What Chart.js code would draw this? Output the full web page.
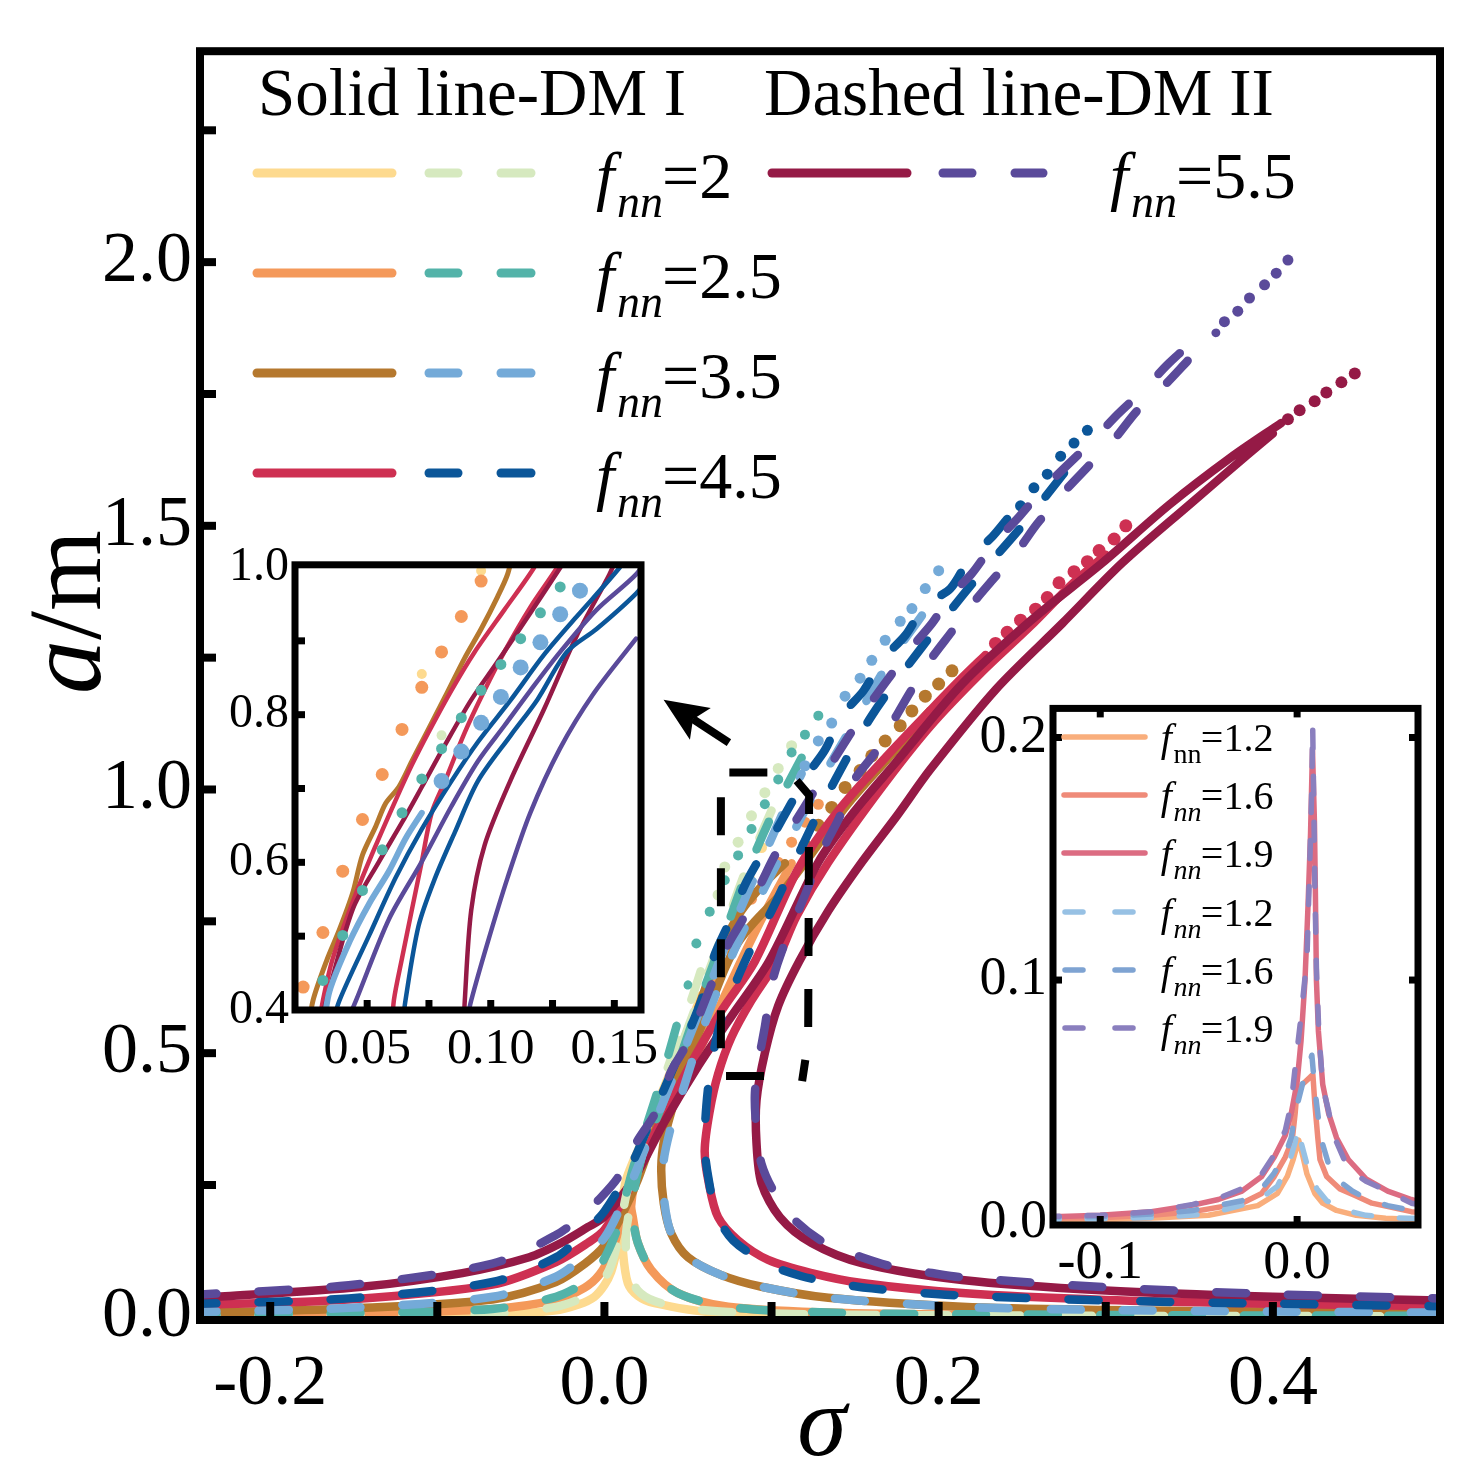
<!DOCTYPE html>
<html>
<head>
<meta charset="utf-8">
<script src="https://cdn.jsdelivr.net/npm/chart.js@4.4.1/dist/chart.umd.min.js"></script>
<style>
  html, body { margin: 0; padding: 0; background: #fff; }
  #wrap { position: relative; width: 1474px; height: 1484px; overflow: hidden; }
  #wrap canvas { position: absolute; }
</style>
</head>
<body>
<div id="wrap">
  <canvas id="mainChart" width="1474" height="1484" style="left:0;top:0"></canvas>
  <canvas id="insetLeft" width="470" height="570" style="left:200px;top:530px"></canvas>
  <canvas id="insetRight" width="490" height="630" style="left:950px;top:670px"></canvas>
</div>
<script>
// ==================================================
// Main plot data: [sigma, a/m] pairs, null = break in the line
// ==================================================
// solid lines, DM I
const dm1_f2 = [[-0.25,0.001],[-0.15,0.002],[-0.067,0.004],[-0.03,0.012],[-0.015,0.024],[-0.006,0.038],[0.0,0.06],[0.004,0.085],[0.007,0.12],[0.009,0.15],[0.010,0.2],[0.013,0.26],[0.022,0.33],[0.035,0.43],[0.048,0.53],[0.058,0.61],null,[0.085,0.8],[0.07,0.69],[0.056,0.58],[0.043,0.47],[0.03,0.37],[0.02,0.29],[0.014,0.22],[0.011,0.17],[0.011,0.126],[0.014,0.064],[0.02,0.04],[0.030,0.026],[0.064,0.009],[0.174,0.002],[0.5,0.001]];
const dm1_f2_dots = [[0.066,0.68],[0.074,0.73],[0.080,0.768],[0.087,0.83],[0.094,0.89]];

const dm1_f25 = [[-0.25,0.003],[-0.153,0.006],[-0.067,0.015],[-0.029,0.032],[-0.012,0.055],[-0.003,0.08],[0.004,0.12],[0.009,0.17],[0.013,0.22],[0.019,0.28],[0.03,0.37],[0.043,0.47],[0.056,0.57],[0.068,0.66],null,[0.112,0.86],[0.095,0.76],[0.078,0.65],[0.062,0.54],[0.047,0.44],[0.034,0.36],[0.024,0.3],[0.018,0.25],[0.016,0.21],[0.017,0.189],[0.020,0.14],[0.028,0.089],[0.044,0.045],[0.074,0.019],[0.134,0.008],[0.214,0.004],[0.35,0.003],[0.5,0.002]];
const dm1_f25_dots = [[0.074,0.70],[0.080,0.749],[0.088,0.792],[0.096,0.83],[0.104,0.862],[0.112,0.90],[0.12,0.938],[0.128,0.972]];

const dm1_f35 = [[-0.25,0.007],[-0.153,0.016],[-0.067,0.033],[-0.029,0.066],[-0.012,0.1],[0.0,0.135],[0.01,0.19],[0.02,0.26],[0.03,0.35],[0.04,0.44],[0.05,0.53],[0.06,0.62],[0.07,0.70],[0.082,0.77],[0.095,0.82],[0.108,0.86],null,[0.195,1.15],[0.17,1.06],[0.145,0.97],[0.122,0.87],[0.105,0.80],[0.09,0.75],[0.08,0.71],[0.072,0.66],[0.062,0.58],[0.052,0.504],[0.042,0.41],[0.036,0.34],[0.034,0.283],[0.0355,0.215],[0.040,0.158],[0.050,0.113],[0.070,0.079],[0.094,0.057],[0.134,0.036],[0.214,0.019],[0.3,0.013],[0.4,0.010],[0.5,0.008]];
const dm1_f35_dots = [[0.12,0.894],[0.128,0.932],[0.136,0.966],[0.144,1.004],[0.153,1.036],[0.160,1.064],[0.168,1.092],[0.177,1.121],[0.184,1.149],[0.192,1.177],[0.2,1.2],[0.208,1.225]];

const dm1_f45 = [[-0.25,0.022],[-0.153,0.033],[-0.067,0.061],[-0.029,0.104],[-0.01,0.14],[0.0,0.165],[0.016,0.25],[0.032,0.36],[0.050,0.47],[0.070,0.58],[0.09,0.674],[0.116,0.85],[0.14,0.96],[0.168,1.06],[0.195,1.15],[0.215,1.215],[0.228,1.255],null,[0.30,1.445],[0.28,1.39],[0.255,1.31],[0.225,1.22],[0.195,1.12],[0.165,1.0],[0.134,0.862],[0.115,0.76],[0.103,0.674],[0.088,0.6],[0.076,0.53],[0.068,0.46],[0.063,0.39],[0.060,0.315],[0.0625,0.253],[0.068,0.189],[0.080,0.145],[0.098,0.108],[0.124,0.083],[0.154,0.064],[0.214,0.045],[0.3,0.032],[0.4,0.025],[0.5,0.02]];
const dm1_f45_dots = [[0.234,1.277],[0.241,1.298],[0.249,1.321],[0.258,1.342],[0.265,1.364],[0.272,1.392],[0.281,1.413],[0.289,1.432],[0.296,1.453],[0.305,1.475],[0.312,1.50]];

const dm1_f55 = [[-0.25,0.036],[-0.227,0.039],[-0.145,0.057],[-0.085,0.083],[-0.045,0.113],[-0.026,0.14],[-0.01,0.17],[0.0,0.19],[0.018,0.264],[0.036,0.37],[0.055,0.47],[0.076,0.57],[0.0985,0.674],[0.128,0.862],[0.15,0.96],[0.174,1.05],[0.214,1.2],[0.255,1.32],[0.298,1.43],[0.338,1.54],[0.375,1.63],[0.405,1.695],null,[0.40,1.675],[0.385,1.635],[0.35,1.54],[0.31,1.43],[0.274,1.315],[0.234,1.189],[0.195,1.038],[0.175,0.95],[0.154,0.862],[0.134,0.77],[0.1165,0.674],[0.104,0.59],[0.096,0.5],[0.091,0.41],[0.091,0.33],[0.094,0.253],[0.105,0.189],[0.124,0.140],[0.154,0.102],[0.214,0.070],[0.3,0.05],[0.4,0.038],[0.5,0.031]];
const dm1_f55_dots = [[0.409,1.702],[0.416,1.719],[0.425,1.736],[0.432,1.753],[0.441,1.772],[0.449,1.789]];

// dashed lines, DM II
const dm2_f2 = [[-0.25,0.002],[-0.153,0.003],[-0.067,0.006],[-0.029,0.019],[-0.012,0.038],[-0.003,0.06],[0.003,0.09],[0.007,0.13],[0.010,0.18],[0.013,0.23],[0.019,0.3],[0.03,0.4],[0.042,0.51],[0.054,0.62],[0.062,0.7],null,[0.1,0.96],[0.085,0.85],[0.07,0.72],[0.056,0.6],[0.042,0.48],[0.03,0.38],[0.021,0.29],[0.016,0.22],[0.013,0.16],[0.013,0.12],[0.015,0.085],[0.02,0.05],[0.03,0.03],[0.05,0.016],[0.09,0.007],[0.2,0.003],[0.5,0.001]];
const dm2_f2_dots = [[0.068,0.8],[0.072,0.853],[0.08,0.9],[0.088,0.95],[0.096,0.994],[0.104,1.04],[0.112,1.083]];

const dm2_f25 = [[-0.25,0.003],[-0.153,0.007],[-0.067,0.015],[-0.029,0.038],[-0.012,0.065],[-0.003,0.095],[0.003,0.13],[0.008,0.17],[0.012,0.22],[0.017,0.28],[0.025,0.36],[0.034,0.45],[0.043,0.55],[0.05,0.63],null,[0.118,1.06],[0.1,0.95],[0.085,0.84],[0.07,0.71],[0.056,0.59],[0.044,0.48],[0.033,0.39],[0.024,0.32],[0.019,0.26],[0.017,0.21],[0.017,0.189],[0.020,0.14],[0.028,0.089],[0.044,0.045],[0.074,0.019],[0.134,0.008],[0.214,0.005],[0.35,0.003],[0.5,0.002]];
const dm2_f25_dots = [[0.055,0.708],[0.063,0.768],[0.072,0.828],[0.080,0.875],[0.088,0.925],[0.096,0.972],[0.104,1.019],[0.112,1.07],[0.120,1.104],[0.128,1.14]];

const dm2_f35 = [[-0.25,0.009],[-0.153,0.017],[-0.067,0.038],[-0.029,0.076],[-0.012,0.115],[0.0,0.15],[0.01,0.21],[0.02,0.285],[0.033,0.39],[0.047,0.5],[0.062,0.62],[0.077,0.74],[0.092,0.85],[0.106,0.95],[0.118,1.03],null,[0.19,1.33],[0.17,1.24],[0.15,1.13],[0.13,1.02],[0.11,0.9],[0.092,0.79],[0.077,0.69],[0.064,0.59],[0.054,0.5],[0.046,0.42],[0.039,0.35],[0.035,0.283],[0.036,0.215],[0.040,0.158],[0.050,0.113],[0.070,0.079],[0.094,0.057],[0.134,0.036],[0.214,0.019],[0.3,0.013],[0.4,0.010],[0.5,0.008]];
const dm2_f35_dots = [[0.12,1.045],[0.128,1.092],[0.136,1.126],[0.144,1.177],[0.153,1.211],[0.160,1.245],[0.168,1.283],[0.177,1.319],[0.184,1.343],[0.192,1.381],[0.2,1.415]];

const dm2_f45 = [[-0.25,0.024],[-0.153,0.035],[-0.067,0.066],[-0.029,0.113],[-0.012,0.16],[0.0,0.2],[0.015,0.28],[0.03,0.39],[0.045,0.5],[0.058,0.6],[0.066,0.687],[0.075,0.75],[0.085,0.825],[0.101,0.913],[0.112,0.975],[0.121,1.026],[0.132,1.075],[0.142,1.14],[0.155,1.187],[0.166,1.245],[0.18,1.292],[0.192,1.349],[0.207,1.381],[0.219,1.44],[0.232,1.479],[0.241,1.513],null,[0.275,1.6],[0.25,1.5],[0.22,1.39],[0.19,1.27],[0.16,1.14],[0.135,1.0],[0.115,0.87],[0.1,0.77],[0.088,0.7],[0.078,0.63],[0.070,0.566],[0.064,0.48],[0.061,0.40],[0.060,0.32],[0.0625,0.258],[0.067,0.196],[0.077,0.145],[0.098,0.10],[0.118,0.077],[0.14,0.063],[0.16,0.054],[0.204,0.042],[0.3,0.031],[0.4,0.025],[0.5,0.02]];
const dm2_f45_dots = [[0.249,1.538],[0.257,1.572],[0.265,1.598],[0.273,1.632],[0.281,1.657],[0.289,1.681]];

const dm2_f55 = [[-0.25,0.041],[-0.153,0.060],[-0.067,0.101],[-0.029,0.155],[-0.012,0.195],[-0.004,0.22],[0.008,0.264],[0.019,0.33],[0.031,0.39],[0.040,0.466],[0.048,0.51],[0.056,0.566],[0.064,0.63],[0.074,0.706],[0.083,0.755],[0.094,0.824],[0.102,0.875],[0.114,0.938],[0.125,0.994],[0.136,1.05],[0.146,1.10],[0.158,1.158],[0.171,1.215],[0.184,1.27],[0.196,1.315],[0.208,1.37],[0.22,1.41],[0.233,1.466],[0.247,1.513],[0.262,1.568],[0.277,1.615],[0.293,1.664],[0.307,1.711],[0.324,1.762],[0.338,1.809],[0.356,1.857],[0.366,1.866],null,[0.349,1.813],[0.335,1.766],[0.319,1.719],[0.305,1.664],[0.289,1.611],[0.275,1.564],[0.259,1.504],[0.248,1.456],[0.233,1.40],[0.221,1.355],[0.208,1.30],[0.196,1.25],[0.184,1.19],[0.174,1.136],[0.162,1.07],[0.150,1.02],[0.140,0.943],[0.132,0.894],[0.12,0.8],[0.106,0.692],[0.100,0.63],[0.096,0.55],[0.092,0.48],[0.090,0.42],[0.091,0.355],[0.094,0.29],[0.102,0.234],[0.114,0.183],[0.132,0.14],[0.154,0.113],[0.174,0.094],[0.196,0.083],[0.214,0.075],[0.3,0.056],[0.4,0.043],[0.5,0.035]];
const dm2_f55_dots = [[0.371,1.887],[0.379,1.907],[0.386,1.932],[0.395,1.957],[0.402,1.979],[0.409,2.004]];

// axis ticks of the main plot
const mainXTicks = [-0.2, 0.0, 0.2, 0.4];
const mainYTicks = [0.0, 0.5, 1.0, 1.5, 2.0];
const legendValues = ['2', '2.5', '3.5', '4.5', '5.5'];

// dashed zoom frame and arrow (data units)
const zoomBox = [[0.0955,0.4566],[0.0697,0.4566],[0.0697,1.032],[0.111,1.032],[0.1225,0.989],[0.1219,0.5226],[0.1183,0.447]];
const arrowPts = [[0.0745,1.0887],[0.0354,1.170]];

// ==================================================
// Left inset (zoom) data
// ==================================================
const inL_purpleR = [[0.1588,0.903],[0.1415,0.828],[0.128,0.754],[0.116,0.667],[0.1068,0.579],[0.0988,0.492],[0.0921,0.413],[0.09,0.38]];
const inL_purpleL = [[0.165,1.02],[0.1588,0.990],[0.1428,0.942],[0.1281,0.885],[0.1161,0.833],[0.1055,0.785],[0.0948,0.737],[0.0841,0.676],[0.0721,0.601],[0.0588,0.523],[0.0455,0.413],[0.04,0.37]];
const inL_maroonR = [[0.152,1.02],[0.148,0.99],[0.1348,0.907],[0.1215,0.807],[0.108,0.711],[0.0975,0.623],[0.0921,0.535],[0.0895,0.413],[0.089,0.37]];
const inL_maroonL = [[0.132,1.02],[0.1281,0.999],[0.1161,0.938],[0.1028,0.872],[0.0921,0.820],[0.0815,0.759],[0.0721,0.702],[0.0641,0.654],[0.0548,0.601],[0.0441,0.536],[0.0335,0.413],[0.03,0.37]];
const inL_blueR = [[0.165,0.99],[0.1588,0.964],[0.1428,0.916],[0.1308,0.885],[0.1188,0.820],[0.1081,0.772],[0.0948,0.710],[0.0855,0.641],[0.0775,0.579],[0.0708,0.514],[0.0655,0.413],[0.064,0.37]];
const inL_blueL = [[0.156,1.02],[0.1521,0.999],[0.1348,0.933],[0.1215,0.881],[0.1081,0.820],[0.0948,0.763],[0.0841,0.710],[0.0721,0.645],[0.0615,0.579],[0.0508,0.501],[0.0388,0.413],[0.035,0.37]];
const inL_crimsonR = [[0.13,1.02],[0.1268,0.999],[0.1161,0.946],[0.1055,0.885],[0.0975,0.833],[0.0895,0.776],[0.0815,0.710],[0.0761,0.667],[0.0721,0.601],[0.0681,0.536],[0.0641,0.470],[0.0608,0.413],[0.06,0.37]];
const inL_crimsonL = [[0.12,1.02],[0.1175,0.999],[0.1055,0.942],[0.0935,0.885],[0.0841,0.833],[0.0748,0.776],[0.0681,0.732],[0.0615,0.684],[0.0535,0.623],[0.0455,0.558],[0.0361,0.470],[0.0321,0.413],[0.03,0.37]];
const inL_brown = [[0.109,1.02],[0.1068,0.990],[0.1028,0.960],[0.0961,0.916],[0.0895,0.877],[0.0815,0.824],[0.0735,0.772],[0.0681,0.737],[0.0628,0.702],[0.0575,0.680],[0.0535,0.649],[0.0481,0.610],[0.0441,0.558],[0.0388,0.509],[0.0335,0.466],[0.0281,0.413],[0.026,0.37]];
const inL_lightBlueLine = [[0.0721,0.667],[0.0655,0.632],[0.0588,0.588],[0.0508,0.544],[0.0428,0.492],[0.0348,0.426],[0.032,0.37]];
const inL_lightBlueDots = [[0.1361,0.968],[0.1281,0.936],[0.1201,0.898],[0.1121,0.864],[0.1041,0.824],[0.0961,0.789],[0.0881,0.750],[0.0801,0.710]];
const inL_orangeDots = [[0.0961,0.981],[0.0881,0.933],[0.0801,0.885],[0.0721,0.837],[0.0641,0.780],[0.0561,0.719],[0.0481,0.658],[0.0401,0.588],[0.0321,0.505],[0.0241,0.431]];
const inL_tealDots = [[0.1281,0.973],[0.1201,0.938],[0.1121,0.903],[0.1041,0.868],[0.0961,0.833],[0.0881,0.796],[0.0801,0.754],[0.0721,0.713],[0.0641,0.667],[0.0561,0.617],[0.0481,0.562],[0.0401,0.501],[0.0321,0.440]];
const inL_yellowDots = [[0.0961,0.995],[0.0721,0.855]];
const inL_greenDots = [[0.0801,0.772]];
const inLXTicks = [0.05, 0.10, 0.15];
const inLYTicks = [0.4, 0.6, 0.8, 1.0];

// ==================================================
// Right inset data
// ==================================================
const inR_s12 = [[-0.13,0.001],[-0.1,0.0012],[-0.07,0.002],[-0.045,0.003],[-0.02,0.007],[-0.01,0.012],[-0.005,0.019],[-0.002,0.026],[0.0008,0.034],[0.003,0.027],[0.005,0.02],[0.009,0.012],[0.013,0.008],[0.02,0.005],[0.03,0.003],[0.045,0.0018],[0.065,0.0012]];
const inR_s16 = [[-0.13,0.0018],[-0.1,0.002],[-0.074,0.003],[-0.053,0.0045],[-0.028,0.008],[-0.018,0.012],[-0.0116,0.019],[-0.006,0.027],[-0.0025,0.034],[-0.001,0.045],[0.0,0.055],[0.004,0.058],[0.008,0.061],[0.009,0.049],[0.0105,0.035],[0.0116,0.026],[0.015,0.019],[0.0215,0.014],[0.03,0.011],[0.038,0.008],[0.058,0.0045],[0.065,0.004]];
const inR_s19 = [[-0.13,0.0022],[-0.1,0.003],[-0.074,0.0045],[-0.053,0.0072],[-0.04,0.0095],[-0.028,0.013],[-0.018,0.019],[-0.0116,0.027],[-0.006,0.036],[-0.003,0.045],[0.0,0.058],[0.002,0.075],[0.004,0.1],[0.0055,0.13],[0.0068,0.16],[0.0078,0.195],[0.0088,0.165],[0.0093,0.135],[0.0098,0.1],[0.0108,0.079],[0.013,0.057],[0.016,0.045],[0.02,0.035],[0.026,0.026],[0.035,0.018],[0.046,0.013],[0.058,0.0095],[0.065,0.008]];
const inR_d12 = [[-0.13,0.0012],[-0.1,0.0015],[-0.07,0.0022],[-0.045,0.0035],[-0.02,0.009],[-0.01,0.015],[-0.004,0.025],[-0.001,0.033],[0.0003,0.039],[0.002,0.033],[0.005,0.024],[0.01,0.014],[0.015,0.009],[0.025,0.005],[0.035,0.003],[0.05,0.002],[0.065,0.0015]];
const inR_d16 = [[-0.13,0.0022],[-0.1,0.0025],[-0.074,0.0035],[-0.053,0.005],[-0.028,0.009],[-0.018,0.014],[-0.012,0.02],[-0.006,0.028],[-0.003,0.035],[-0.001,0.045],[0.003,0.058],[0.0075,0.069],[0.009,0.055],[0.0105,0.045],[0.012,0.035],[0.016,0.024],[0.02,0.018],[0.028,0.013],[0.035,0.01],[0.046,0.007],[0.058,0.005],[0.065,0.0045]];
const inR_d19 = [[-0.13,0.0025],[-0.1,0.003],[-0.074,0.0045],[-0.053,0.0075],[-0.04,0.01],[-0.028,0.014],[-0.018,0.02],[-0.0116,0.028],[-0.006,0.038],[-0.003,0.049],[-0.001,0.064],[0.002,0.085],[0.005,0.109],[0.0065,0.15],[0.0075,0.18],[0.0079,0.205],[0.0085,0.17],[0.009,0.139],[0.0098,0.105],[0.011,0.079],[0.013,0.056],[0.016,0.046],[0.018,0.037],[0.026,0.022],[0.035,0.017],[0.046,0.013],[0.058,0.008],[0.065,0.007]];
const inRLegend = ['1.2', '1.6', '1.9', '1.2', '1.6', '1.9'];

// ==================================================
// Colours / helpers
// ==================================================
const C = {
  yellow: '#FDDA8F', green: '#D6E9BF', orange: '#F4995A', teal: '#53B3A9',
  brown: '#B5782E', lightBlue: '#74AAD8', crimson: '#CE3052', blue: '#0B5699',
  maroon: '#951A46', purple: '#5A4A9A',
  s12: '#F9AE7C', s16: '#EF8B79', s19: '#DC6C82', d12: '#97C1E4', d16: '#7EA3D2', d19: '#8A7FBE'
};
const SERIF = '"Liberation Serif", "Times New Roman", serif';
const fmt = d => v => (Math.abs(v) < 1e-9 ? 0 : v).toFixed(d);

function toXY(arr) {
  let lastX = 0;
  return arr.map(p => {
    if (p) { lastX = p[0]; return { x: p[0], y: p[1] }; }
    return { x: lastX, y: null };
  });
}
function lineSet(arr, color, width, dash, tension) {
  return {
    data: toXY(arr), showLine: true, borderColor: color, backgroundColor: color,
    borderWidth: width, borderDash: dash || [], borderCapStyle: 'round', borderJoinStyle: 'round',
    pointRadius: 0, pointHoverRadius: 0, tension: tension === undefined ? 0.3 : tension,
    spanGaps: false, clip: 0
  };
}
function dotSet(arr, color, r) {
  return {
    data: toXY(arr), showLine: false, pointRadius: r, pointHoverRadius: r,
    pointBackgroundColor: color, pointBorderWidth: 0, borderColor: color, backgroundColor: color, clip: 0
  };
}
function scaleOpts(min, max, ticks, digits, size, pad, fit) {
  return {
    type: 'linear', min: min, max: max,
    grid: { display: false, drawTicks: false }, border: { display: false },
    afterBuildTicks: s => { s.ticks = ticks.map(v => ({ value: v })); },
    ticks: { font: { family: SERIF, size: size }, color: '#000', padding: pad, callback: fmt(digits) },
    afterFit: fit
  };
}
function inwardTicks(ctx, chart, axis, values, len, side) {
  const ca = chart.chartArea, s = chart.scales[axis];
  values.forEach(v => {
    const p = s.getPixelForValue(v);
    ctx.beginPath();
    if (side === 'left') { ctx.moveTo(ca.left, p); ctx.lineTo(ca.left + len, p); }
    if (side === 'right') { ctx.moveTo(ca.right, p); ctx.lineTo(ca.right - len, p); }
    if (side === 'bottom') { ctx.moveTo(p, ca.bottom); ctx.lineTo(p, ca.bottom - len); }
    if (side === 'top') { ctx.moveTo(p, ca.top); ctx.lineTo(p, ca.top + len); }
    ctx.stroke();
  });
}
// "f_nn=value" label: x0 = visual left of the f, yb = baseline
function fLabel(ctx, x0, yb, size, value, uprightSub) {
  const k = size / 66;
  ctx.fillStyle = '#000';
  ctx.textAlign = 'left';
  ctx.textBaseline = 'alphabetic';
  ctx.font = 'italic ' + size + 'px ' + SERIF;
  ctx.fillText('f', x0 + 8 * k, yb);
  ctx.font = (uprightSub ? '' : 'italic ') + Math.round(size * 0.7) + 'px ' + SERIF;
  ctx.fillText('nn', x0 + 29 * k, yb + 19 * k);
  ctx.font = size + 'px ' + SERIF;
  ctx.fillText('=' + value, x0 + 74 * k, yb);
}
function seg(ctx, x1, x2, y, color, w) {
  ctx.setLineDash([]);
  ctx.strokeStyle = color; ctx.lineWidth = w; ctx.lineCap = 'round';
  ctx.beginPath(); ctx.moveTo(x1, y); ctx.lineTo(x2, y); ctx.stroke();
}

// ==================================================
// Main chart
// ==================================================
const DASH = [30, 42];
const mainDatasets = [
  dotSet(dm2_f55_dots, C.purple, 5.5), lineSet(dm2_f55, C.purple, 8.5, DASH),
  dotSet(dm2_f45_dots, C.blue, 5.5), lineSet(dm2_f45, C.blue, 8.5, DASH),
  dotSet(dm2_f35_dots, C.lightBlue, 5.5), lineSet(dm2_f35, C.lightBlue, 8.5, DASH),
  dotSet(dm2_f25_dots, C.teal, 5), lineSet(dm2_f25, C.teal, 8.5, DASH),
  dotSet(dm2_f2_dots, C.green, 5.5), lineSet(dm2_f2, C.green, 8.5, DASH),
  dotSet(dm1_f55_dots, C.maroon, 6), lineSet(dm1_f55, C.maroon, 8.5),
  dotSet(dm1_f45_dots, C.crimson, 6.5), lineSet(dm1_f45, C.crimson, 8.5),
  dotSet(dm1_f35_dots, C.brown, 6.5), lineSet(dm1_f35, C.brown, 8.5),
  dotSet(dm1_f25_dots, C.orange, 5.5), lineSet(dm1_f25, C.orange, 8.5),
  dotSet(dm1_f2_dots, C.yellow, 5.5), lineSet(dm1_f2, C.yellow, 8.5)
];

const mainDecor = {
  id: 'mainDecor',
  beforeDraw(chart) {
    const ctx = chart.ctx;
    ctx.save(); ctx.fillStyle = '#fff'; ctx.fillRect(0, 0, chart.width, chart.height); ctx.restore();
  },
  afterDraw(chart) {
    const ctx = chart.ctx, ca = chart.chartArea, sx = chart.scales.x, sy = chart.scales.y;
    const px = p => [sx.getPixelForValue(p[0]), sy.getPixelForValue(p[1])];
    ctx.save();
    ctx.setLineDash([]);
    // frame + inward ticks
    ctx.strokeStyle = '#000'; ctx.lineWidth = 8; ctx.lineCap = 'butt';
    ctx.strokeRect(ca.left, ca.top, ca.right - ca.left, ca.bottom - ca.top);
    inwardTicks(ctx, chart, 'y', [0.25, 0.5, 0.75, 1.0, 1.25, 1.5, 1.75, 2.0, 2.25], 16, 'left');
    inwardTicks(ctx, chart, 'x', [-0.2, -0.1, 0.0, 0.1, 0.2, 0.3, 0.4], 18, 'bottom');

    // arrow to the inset
    const a0 = px(arrowPts[0]), a1 = px(arrowPts[1]);
    const ang = Math.atan2(a1[1] - a0[1], a1[0] - a0[0]);
    const hl = 44, hw = 19;
    const bx = a1[0] - hl * 0.8 * Math.cos(ang), by = a1[1] - hl * 0.8 * Math.sin(ang);
    ctx.strokeStyle = '#000'; ctx.lineWidth = 8; ctx.lineCap = 'butt';
    ctx.beginPath(); ctx.moveTo(a0[0], a0[1]); ctx.lineTo(bx, by); ctx.stroke();
    const cx = a1[0] - hl * Math.cos(ang), cy = a1[1] - hl * Math.sin(ang);
    ctx.fillStyle = '#000';
    ctx.beginPath();
    ctx.moveTo(a1[0], a1[1]);
    ctx.lineTo(cx + hw * Math.sin(ang), cy - hw * Math.cos(ang));
    ctx.lineTo(bx, by);
    ctx.lineTo(cx - hw * Math.sin(ang), cy + hw * Math.cos(ang));
    ctx.closePath(); ctx.fill();

    // dashed zoom frame
    ctx.setLineDash([38, 33]); ctx.lineWidth = 8;
    ctx.beginPath();
    zoomBox.forEach((p, i) => { const q = px(p); i ? ctx.lineTo(q[0], q[1]) : ctx.moveTo(q[0], q[1]); });
    ctx.stroke();
    ctx.setLineDash([]);

    // legend
    ctx.fillStyle = '#000'; ctx.textBaseline = 'alphabetic'; ctx.textAlign = 'left';
    ctx.font = '67px ' + SERIF;
    ctx.fillText('Solid line-DM I', 258, 115);
    ctx.fillText('Dashed line-DM II', 764, 115);
    const rows = [
      { y: 173, s: C.yellow, d: C.green },
      { y: 273, s: C.orange, d: C.teal },
      { y: 373, s: C.brown, d: C.lightBlue },
      { y: 473, s: C.crimson, d: C.blue }
    ];
    rows.forEach((r, i) => {
      seg(ctx, 257, 392, r.y, r.s, 9);
      seg(ctx, 429, 458, r.y, r.d, 9);
      seg(ctx, 501, 531, r.y, r.d, 9);
      fLabel(ctx, 588, r.y + 25, 66, legendValues[i], false);
    });
    seg(ctx, 772, 907, 173, C.maroon, 9);
    seg(ctx, 943, 972, 173, C.purple, 9);
    seg(ctx, 1015, 1043, 173, C.purple, 9);
    fLabel(ctx, 1102, 198, 66, legendValues[4], false);

    // axis titles
    ctx.fillStyle = '#000';
    ctx.font = 'italic 100px ' + SERIF;
    ctx.textAlign = 'center';
    ctx.fillText('\u03c3', 822, 1455);
    ctx.save();
    ctx.translate(100, 612);
    ctx.rotate(-Math.PI / 2);
    ctx.textAlign = 'left';
    ctx.font = 'italic 108px ' + SERIF;
    const wa = ctx.measureText('a').width;
    ctx.font = '104px ' + SERIF;
    const wm = ctx.measureText('/m').width;
    const start = -(wa + wm) / 2;
    ctx.font = 'italic 108px ' + SERIF;
    ctx.fillText('a', start, 0);
    ctx.font = '104px ' + SERIF;
    ctx.fillText('/m', start + wa, 0);
    ctx.restore();
    ctx.restore();
  }
};

new Chart(document.getElementById('mainChart'), {
  type: 'scatter',
  data: { datasets: mainDatasets },
  options: {
    responsive: false, animation: false, devicePixelRatio: 1, events: [],
    layout: { padding: { top: 45, right: 34, left: 0, bottom: 0 } },
    plugins: { legend: { display: false }, tooltip: { enabled: false } },
    scales: {
      x: scaleOpts(-0.242, 0.5, mainXTicks, 1, 72, 22, s => { s.height = 164; }),
      y: scaleOpts(-0.006, 2.4, mainYTicks, 1, 72, 8, s => { s.width = 200; })
    }
  },
  plugins: [mainDecor]
});

// ==================================================
// Inset helpers
// ==================================================
function insetFrame(lineW, tickLen, tickSets, legendFn) {
  return {
    id: 'insetFrame',
    beforeDatasetsDraw(chart) {
      const ctx = chart.ctx, ca = chart.chartArea;
      ctx.save(); ctx.fillStyle = '#fff';
      ctx.fillRect(ca.left - 2, ca.top - 2, ca.right - ca.left + 4, ca.bottom - ca.top + 4);
      ctx.restore();
    },
    afterDraw(chart) {
      const ctx = chart.ctx, ca = chart.chartArea;
      ctx.save();
      ctx.setLineDash([]);
      ctx.strokeStyle = '#000'; ctx.lineWidth = lineW;
      ctx.strokeRect(ca.left, ca.top, ca.right - ca.left, ca.bottom - ca.top);
      tickSets.forEach(t => inwardTicks(ctx, chart, t.axis, t.values, tickLen, t.side));
      if (legendFn) legendFn(ctx);
      ctx.restore();
    }
  };
}

// ==================================================
// Left inset
// ==================================================
new Chart(document.getElementById('insetLeft'), {
  type: 'scatter',
  data: {
    datasets: [
      dotSet(inL_tealDots, C.teal, 5.5),
      dotSet(inL_lightBlueDots, C.lightBlue, 8),
      dotSet(inL_orangeDots, C.orange, 6.5),
      dotSet(inL_yellowDots, C.yellow, 5),
      dotSet(inL_greenDots, C.green, 5),
      lineSet(inL_purpleR, C.purple, 4.5),
      lineSet(inL_purpleL, C.purple, 4.5),
      lineSet(inL_blueR, C.blue, 4.5),
      lineSet(inL_blueL, C.blue, 4.5),
      lineSet(inL_lightBlueLine, C.lightBlue, 6),
      lineSet(inL_maroonR, C.maroon, 4.5),
      lineSet(inL_maroonL, C.maroon, 4.5),
      lineSet(inL_crimsonR, C.crimson, 4.5),
      lineSet(inL_crimsonL, C.crimson, 4.5),
      lineSet(inL_brown, C.brown, 5)
    ]
  },
  options: {
    responsive: false, animation: false, devicePixelRatio: 1, events: [],
    layout: { padding: { top: 20, right: 25, left: 0, bottom: 0 } },
    plugins: { legend: { display: false }, tooltip: { enabled: false } },
    scales: {
      x: scaleOpts(0.0208, 0.1608, inLXTicks, 2, 50, 10, s => { s.height = 90; }),
      y: scaleOpts(0.4, 1.003, inLYTicks, 1, 48, 6, s => { s.width = 95; })
    }
  },
  plugins: [insetFrame(7, 10, [
    { axis: 'y', values: [0.5, 0.6, 0.7, 0.8, 0.9], side: 'left' },
    { axis: 'x', values: [0.05, 0.075, 0.1, 0.125, 0.15], side: 'bottom' }
  ])]
});

// ==================================================
// Right inset
// ==================================================
const RDASH = [18, 28];
function rightLegend(ctx) {
  const rows = [67, 125, 183, 242, 300, 358];
  const cols = [C.s12, C.s16, C.s19, C.d12, C.d16, C.d19];
  rows.forEach((y, i) => {
    if (i < 3) seg(ctx, 114, 195, y, cols[i], 5.5);
    else { seg(ctx, 115, 133, y, cols[i], 5.5); seg(ctx, 165, 183, y, cols[i], 5.5); }
    fLabel(ctx, 206, y + 14, 40, inRLegend[i], i === 0);
  });
}
new Chart(document.getElementById('insetRight'), {
  type: 'scatter',
  data: {
    datasets: [
      lineSet(inR_d19, C.d19, 5.5, RDASH, 0),
      lineSet(inR_d16, C.d16, 5.5, RDASH, 0),
      lineSet(inR_d12, C.d12, 5.5, RDASH, 0),
      lineSet(inR_s19, C.s19, 5.5, [], 0),
      lineSet(inR_s16, C.s16, 5.5, [], 0),
      lineSet(inR_s12, C.s12, 5.5, [], 0)
    ]
  },
  options: {
    responsive: false, animation: false, devicePixelRatio: 1, events: [],
    layout: { padding: { top: 20, right: 22, left: 0, bottom: 0 } },
    plugins: { legend: { display: false }, tooltip: { enabled: false } },
    scales: {
      x: scaleOpts(-0.124, 0.0614, [-0.1, 0.0], 1, 54, 6, s => { s.height = 75; }),
      y: scaleOpts(-0.001, 0.212, [0.0, 0.1, 0.2], 1, 54, 6, s => { s.width = 103; })
    }
  },
  plugins: [insetFrame(7, 9, [
    { axis: 'y', values: [0.1, 0.2], side: 'left' },
    { axis: 'y', values: [0.1, 0.2], side: 'right' },
    { axis: 'x', values: [-0.1, 0.0], side: 'bottom' },
    { axis: 'x', values: [-0.1, 0.0], side: 'top' }
  ], rightLegend)]
});
</script>
</body>
</html>
